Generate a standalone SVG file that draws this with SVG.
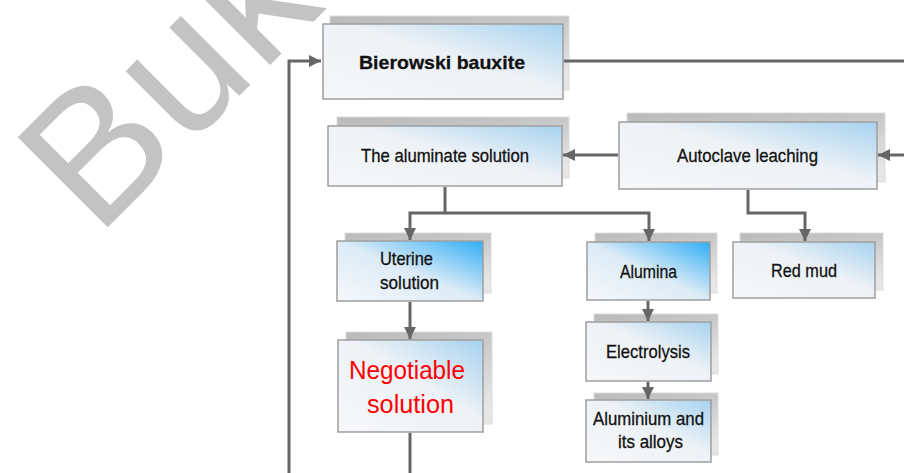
<svg xmlns="http://www.w3.org/2000/svg" width="904" height="473" viewBox="0 0 904 473">
<defs>
<linearGradient id="gFront" x1="0" y1="1" x2="1" y2="0">
<stop offset="0" stop-color="#f6f7f9"/>
<stop offset="0.55" stop-color="#eef2f6"/>
<stop offset="1" stop-color="#a6d2ef"/>
</linearGradient>
<linearGradient id="gBlue" x1="0" y1="1" x2="1" y2="0">
<stop offset="0" stop-color="#f6f8fb"/>
<stop offset="0.5" stop-color="#dcebf6"/>
<stop offset="1" stop-color="#2fadf5"/>
</linearGradient>
<linearGradient id="gShadow" x1="0" y1="0" x2="0.3" y2="1">
<stop offset="0" stop-color="#b9b9b9"/>
<stop offset="1" stop-color="#e6e6e6"/>
</linearGradient>
<marker id="arr" markerUnits="userSpaceOnUse" markerWidth="12" markerHeight="12" viewBox="0 0 10 10" refX="10" refY="5" orient="auto">
<path d="M0,0 L10,5 L0,10 z" fill="#666"/>
</marker>
</defs>
<style>
.sh{fill:url(#gShadow);stroke:#dcdcdc;stroke-width:1}
.fr{fill:url(#gFront);stroke:#9e9e9e;stroke-width:1.5}
.frb{fill:url(#gBlue);stroke:#9e9e9e;stroke-width:1.5}
.t{font-family:"Liberation Sans",Arial,sans-serif;fill:#111;stroke:#111;stroke-width:0.3;font-size:19px;text-anchor:start}
.tr{font-family:"Liberation Sans",Arial,sans-serif;fill:#ff0000;font-size:26px}
.c{fill:none;stroke:#666;stroke-width:3}
</style>
<text x="0" y="0" transform="translate(97,238) rotate(-45)" font-family="Liberation Sans, Arial, sans-serif" font-size="185" letter-spacing="3" fill="#c3c3c3">Buk</text>
<g id="bauxite">
<rect class="sh" x="330" y="16" width="239" height="74"/>
<rect class="fr" x="323" y="24" width="240" height="75"/>
<text class="t" x="359" y="69" font-size="22" font-weight="bold" stroke-width="0" textLength="166" lengthAdjust="spacingAndGlyphs">Bierowski bauxite</text>
</g>
<g id="aluminate">
<rect class="sh" x="337" y="117" width="232" height="61"/>
<rect class="fr" x="328" y="126" width="234" height="60"/>
<text class="t" x="361" y="162" textLength="168" lengthAdjust="spacingAndGlyphs">The aluminate  solution</text>
</g>
<g id="autoclave">
<rect class="sh" x="627" y="113" width="258" height="69"/>
<rect class="fr" x="619" y="122" width="258" height="67"/>
<text class="t" x="677" y="162" textLength="141" lengthAdjust="spacingAndGlyphs">Autoclave  leaching</text>
</g>
<g id="uterine">
<rect class="sh" x="345" y="233" width="146" height="60"/>
<rect class="frb" x="337" y="241" width="146" height="60"/>
<text class="t" x="380" y="265" textLength="53" lengthAdjust="spacingAndGlyphs">Uterine</text>
<text class="t" x="380" y="289" textLength="59" lengthAdjust="spacingAndGlyphs">solution</text>
</g>
<g id="alumina">
<rect class="sh" x="595" y="233" width="122" height="60"/>
<rect class="frb" x="587" y="242" width="123" height="58"/>
<text class="t" x="620" y="278" textLength="57" lengthAdjust="spacingAndGlyphs">Alumina</text>
</g>
<g id="redmud">
<rect class="sh" x="740" y="233" width="143" height="57"/>
<rect class="fr" x="733" y="242" width="142" height="56"/>
<text class="t" x="771" y="277" textLength="66" lengthAdjust="spacingAndGlyphs">Red mud</text>
</g>
<g id="negotiable">
<rect class="sh" x="346" y="332" width="146" height="92"/>
<rect class="fr" x="338" y="340" width="145" height="92"/>
<text class="tr" x="349" y="379" textLength="116" lengthAdjust="spacingAndGlyphs">Negotiable</text>
<text class="tr" x="367" y="413" textLength="87" lengthAdjust="spacingAndGlyphs">solution</text>
</g>
<g id="electrolysis">
<rect class="sh" x="594" y="314" width="124" height="60"/>
<rect class="fr" x="586" y="322" width="125" height="59"/>
<text class="t" x="606" y="358" textLength="84" lengthAdjust="spacingAndGlyphs">Electrolysis</text>
</g>
<g id="aluminium">
<rect class="sh" x="594" y="393" width="124" height="62"/>
<rect class="fr" x="586" y="400" width="125" height="62"/>
<text class="t" x="593" y="425" textLength="111" lengthAdjust="spacingAndGlyphs">Aluminium  and</text>
<text class="t" x="618" y="448" textLength="65" lengthAdjust="spacingAndGlyphs">its alloys</text>
</g>
<g id="connectors">
<path class="c" d="M289,473 V61 H321" marker-end="url(#arr)"/>
<path class="c" d="M564,61 H904"/>
<path class="c" d="M904,155 H878" marker-end="url(#arr)"/>
<path class="c" d="M618,155 H563" marker-end="url(#arr)"/>
<path class="c" d="M445,187 V213 H410 V240" marker-end="url(#arr)"/>
<path class="c" d="M445,213 H649 V241" marker-end="url(#arr)"/>
<path class="c" d="M748,190 V213 H805 V241" marker-end="url(#arr)"/>
<path class="c" d="M410,302 V339" marker-end="url(#arr)"/>
<path class="c" d="M410,433 V473"/>
<path class="c" d="M648,301 V321" marker-end="url(#arr)"/>
<path class="c" d="M648,382 V399" marker-end="url(#arr)"/>
</g>
</svg>
